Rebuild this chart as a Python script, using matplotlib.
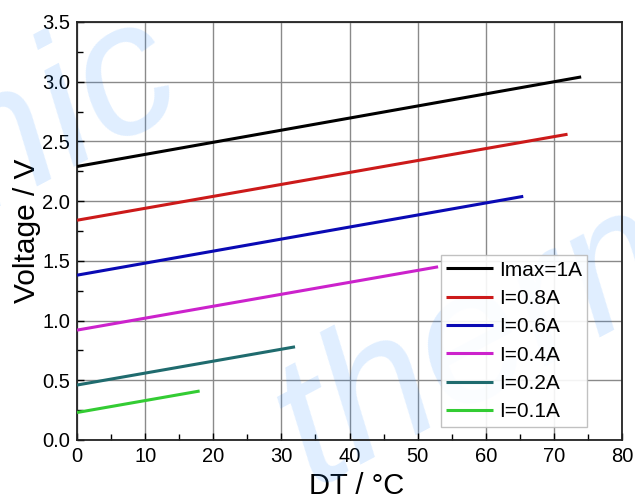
import matplotlib
matplotlib.use("Agg")
import matplotlib.pyplot as plt
from matplotlib.ticker import MultipleLocator

plt.rcParams['font.family'] = ['Liberation Sans', 'DejaVu Sans']

# valeurs (extremites des droites)
labels = ['Imax=1A', 'I=0.8A', 'I=0.6A', 'I=0.4A', 'I=0.2A', 'I=0.1A']
dt_1a = [0, 74]
v_1a = [2.29, 3.04]
dt_08 = [0, 72]
v_08 = [1.84, 2.56]
dt_06 = [0, 65.5]
v_06 = [1.38, 2.04]
dt_04 = [0, 53]
v_04 = [0.92, 1.45]
dt_02 = [0, 32]
v_02 = [0.46, 0.78]
dt_01 = [0, 18]
v_01 = [0.23, 0.41]
colors = ['#000000', '#cc1a1a', '#0a0ab4', '#cc22cc', '#1f6b6e', '#33cc33']

series = [(dt_1a, v_1a), (dt_08, v_08), (dt_06, v_06),
          (dt_04, v_04), (dt_02, v_02), (dt_01, v_01)]

fig = plt.figure(figsize=(6.35, 5.01), dpi=100)
ax = fig.add_axes([0.1213, 0.1218, 0.8583, 0.8343])

for (x, y), lab, c in zip(series, labels, colors):
    ax.plot(x, y, color=c, lw=2.2, label=lab, solid_capstyle='butt', zorder=3)

ax.set_xlim(0, 80)
ax.set_ylim(0, 3.5)
ax.xaxis.set_major_locator(MultipleLocator(10))
ax.xaxis.set_minor_locator(MultipleLocator(5))
ax.yaxis.set_major_locator(MultipleLocator(0.5))
ax.yaxis.set_minor_locator(MultipleLocator(0.25))
ax.yaxis.set_major_formatter(plt.FormatStrFormatter('%.1f'))
ax.tick_params(which='both', direction='in', labelsize=14.5, top=False, right=False)
ax.tick_params(which='major', length=5, width=1, pad=5)
ax.tick_params(which='minor', length=4, width=1)
ax.grid(True, which='major', color='#8a8a8a', lw=1.0)
for s in ax.spines.values():
    s.set_linewidth(1.3)
    s.set_color('#222222')

ax.set_xlabel('DT / \u00b0C', fontsize=21)
ax.xaxis.set_label_coords(0.513, -0.077)
ax.set_ylabel('Voltage / V', fontsize=21.5, labelpad=1)

leg = ax.legend(loc='lower right', bbox_to_anchor=(0.936, 0.032), fontsize=15,
                frameon=True, fancybox=False, edgecolor='#bbbbbb', framealpha=0.9,
                handlelength=2.25, handletextpad=0.3, labelspacing=0.45,
                borderpad=0.25, borderaxespad=0)
leg.get_frame().set_linewidth(1.0)
leg.set_zorder(5)

# filigrane
ax.text(0.30, 0.80, 'thermonamic', transform=fig.transFigure, fontsize=135,
        color='#1e88ff', alpha=0.14, rotation=28, rotation_mode='anchor',
        ha='right', va='baseline', style='italic', clip_on=False, zorder=2)
ax.text(0.49, 0.03, 'thermonamic', transform=fig.transFigure, fontsize=135,
        color='#1e88ff', alpha=0.14, rotation=28, rotation_mode='anchor',
        ha='left', va='baseline', style='italic', clip_on=False, zorder=2)

fig.savefig('out.png', dpi=100)
